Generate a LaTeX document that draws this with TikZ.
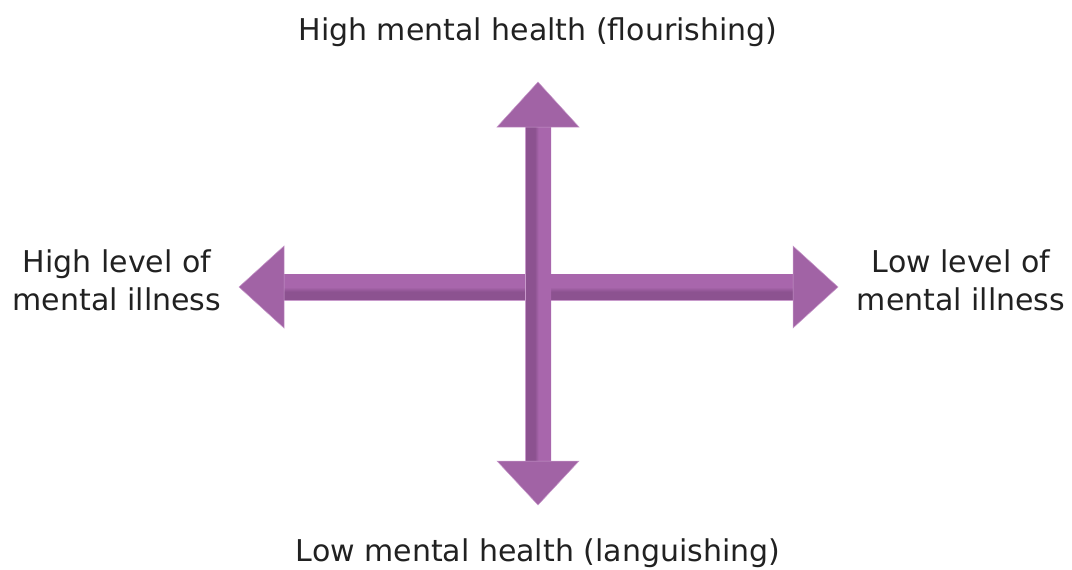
\documentclass[tikz,border=0pt]{standalone}
\usepackage{fontspec}
\setmainfont{DejaVu Sans}
\definecolor{pdark}{HTML}{8C5290}
\definecolor{phead}{HTML}{A163A5}
\definecolor{plight}{HTML}{A866AC}
\definecolor{pedge}{HTML}{C89ACB}
\pgfdeclareverticalshading{hshaft}{100bp}{color(0bp)=(pdark); color(41bp)=(pdark); color(50bp)=(plight); color(100bp)=(plight)}
\pgfdeclarehorizontalshading{vshaft}{100bp}{color(0bp)=(pdark); color(44bp)=(pdark); color(51bp)=(plight); color(100bp)=(plight)}
\tikzset{
  lbl/.style={font=\fontsize{30}{38}\selectfont, text=black!87, align=center, inner sep=0pt},
  headshape/.style={fill=phead, draw=pedge, line width=0.5pt},
}
\begin{document}
\begin{tikzpicture}[x=1pt,y=-1pt]
\useasboundingbox (0,0) rectangle (1072,570);
% horizontal arrow: shaft and heads
\shade[shading=hshaft] (284,274) rectangle (793,300);
\draw[pedge, line width=0.5pt] (284,300) -- (793,300);
\path[headshape] (239,287) -- (284,246) -- (284,328) -- cycle;
\path[headshape] (838,287) -- (793,246) -- (793,328) -- cycle;
% vertical arrow: shaft and heads
\shade[shading=vshaft] (525,127) rectangle (551,461);
\draw[pedge, line width=0.5pt] (525,127) -- (525,461);
\path[headshape] (538,82) -- (579,127) -- (497,127) -- cycle;
\path[headshape] (538,505) -- (579,461) -- (497,461) -- cycle;
\coordinate (c) at (538,287);
\node[lbl, anchor=base] (top) at (538,41) {High mental health (flourishing)};
\node[lbl, anchor=base] (bot) at (538,561) {Low mental health (languishing)};
\node[lbl, anchor=base] (left) at (117,310) {High level of\\mental illness};
\node[lbl, anchor=base] (right) at (961,310) {Low level of\\mental illness};
\end{tikzpicture}
\end{document}
